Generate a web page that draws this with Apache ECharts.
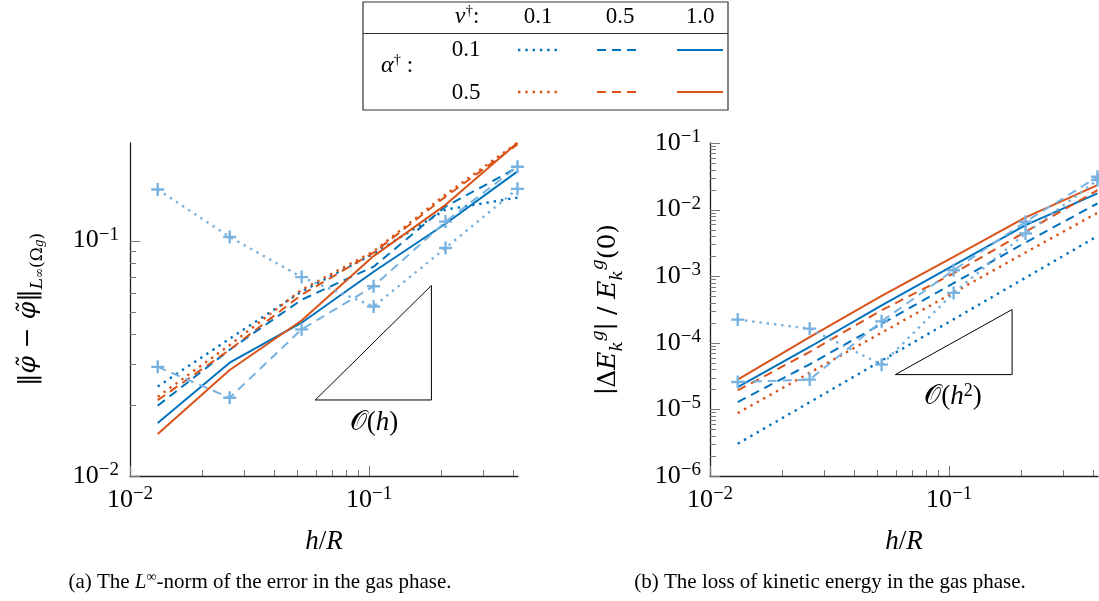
<!DOCTYPE html>
<html><head><meta charset="utf-8">
<script src="https://cdn.jsdelivr.net/npm/echarts@6/dist/echarts.min.js"></script>
<style>html,body{margin:0;padding:0;background:#fff}#c{width:1099px;height:601px}</style>
</head><body><div id="c"></div><script>
// ---------- data ----------
const hR = [0.01306, 0.02612, 0.05224, 0.1045, 0.209, 0.418];
// (a) L-infinity error in gas phase
const errA01N01 = [0.0240, 0.0383, 0.0608, 0.0880, 0.1355, 0.1524];
const errA01N05 = [0.0199, 0.0344, 0.0561, 0.0775, 0.1396, 0.2046];
const errA01N10 = [0.0168, 0.0303, 0.0448, 0.0738, 0.1180, 0.1970];
const errA05N01 = [0.0217, 0.0360, 0.0618, 0.0900, 0.1570, 0.2606];
const errA05N05 = [0.0210, 0.0344, 0.0589, 0.0889, 0.1538, 0.2564];
const errA05N10 = [0.0151, 0.0282, 0.0458, 0.0860, 0.1420, 0.2606];
const errRefDot  = [0.1649, 0.1037, 0.0700, 0.0525, 0.0931, 0.1660];
const errRefDash = [0.0291, 0.0215, 0.0420, 0.0640, 0.1205, 0.2061];
// (b) loss of kinetic energy
const keA01N01 = [3.05e-6, 1.28e-5, 5.40e-5, 2.25e-4, 9.5e-4, 4.0e-3];
const keA01N05 = [1.29e-5, 4.75e-5, 1.93e-4, 7.85e-4, 3.21e-3, 1.24e-2];
const keA01N10 = [2.16e-5, 8.65e-5, 3.66e-4, 1.46e-3, 5.85e-3, 1.75e-2];
const keA05N01 = [8.79e-6, 3.54e-5, 1.42e-4, 5.66e-4, 2.27e-3, 8.95e-3];
const keA05N05 = [1.93e-5, 7.28e-5, 3.08e-4, 1.10e-3, 4.63e-3, 1.96e-2];
const keA05N10 = [2.80e-5, 1.22e-4, 5.06e-4, 1.95e-3, 7.64e-3, 2.33e-2];
const keRefDot  = [2.23e-4, 1.63e-4, 4.70e-5, 5.61e-4, 4.38e-3, 2.78e-2];
const keRefDash = [2.58e-5, 2.80e-5, 2.10e-4, 1.23e-3, 6.56e-3, 3.11e-2];
// slope triangles
const triErrX = [0.0596, 0.1824, 0.1824, 0.0596];
const triErrY = [0.02104, 0.02104, 0.0645, 0.02104];
const triKeX = [0.0596, 0.1836, 0.1836, 0.0596];
const triKeY = [3.33e-5, 3.33e-5, 3.16e-4, 3.33e-5];
// axis ranges & ticks
const xRange = [0.01, 0.42];
const errRange = [0.01, 0.26];
const keRange = [1e-6, 0.1];
const xMajor = [0.01, 0.1];
const xMinor = [0.02,0.03,0.04,0.05,0.06,0.07,0.08,0.09,0.2,0.3,0.4];
const errMajor = [0.01, 0.1];
const errMinor = [0.02,0.03,0.04,0.05,0.06,0.07,0.08,0.09];
const keMajor = [1e-6,1e-5,1e-4,1e-3,1e-2,1e-1];
const keMinor = [];
[1e-6,1e-5,1e-4,1e-3,1e-2].forEach(d => { for (let m = 2; m <= 9; m++) keMinor.push(+(d*m).toPrecision(3)); });

// ---------- styles ----------
const F = 'Liberation Serif';
const FD = 'DejaVu Serif';
const BLUE = '#0072BD', ORANGE = '#D95319', LB = '#78B2E0';
const DOT = [2.4, 4.9], DASH = [9, 6];
const PLUS = 'path://M-1.1,-6H1.1V-1.1H6V1.1H1.1V6H-1.1V1.1H-6V-1.1H-1.1Z';

function pairs(xs, ys) { return xs.map((x, i) => [x, ys[i]]); }
function line(g, ys, color, type, width, marker, z) {
  return {
    type: 'line', xAxisIndex: g, yAxisIndex: g, data: pairs(hR, ys),
    symbol: marker ? PLUS : 'none', symbolSize: 13, showSymbol: !!marker,
    itemStyle: { color: color }, z: z || 2,
    lineStyle: { color: color, width: width, type: type, cap: 'butt' },
    silent: true, animation: false
  };
}
function tri(g, xs, ys) {
  return { type: 'line', xAxisIndex: g, yAxisIndex: g, data: pairs(xs, ys), symbol: 'none',
    lineStyle: { color: '#000', width: 1 }, silent: true, z: 1 };
}
function ticks(g, list, axis, base, len) {
  return {
    type: 'custom', xAxisIndex: g, yAxisIndex: g, coordinateSystem: 'cartesian2d', clip: false, silent: true, z: 1,
    data: list.map(v => axis === 'x' ? [v, base, len] : [base, v, len]),
    encode: { x: 0, y: 1 },
    renderItem: (params, api) => {
      const p = api.coord([api.value(0), api.value(1)]);
      const L = api.value(2);
      let shape;
      if (axis === 'x') { const x = Math.round(p[0]) + 0.5; shape = { x1: x, y1: p[1], x2: x, y2: p[1] - L }; }
      else { const y = Math.round(p[1]) + 0.5; shape = { x1: p[0], y1: y, x2: p[0] + L, y2: y }; }
      return { type: 'line', shape: shape, style: { stroke: '#777', lineWidth: 1 } };
    }
  };
}
const tickRich = {
  b: { fontFamily: F, fontSize: 26, lineHeight: 31, color: '#000' },
  s: { fontFamily: F, fontSize: 19, lineHeight: 19, verticalAlign: 'top', color: '#000' }
};
function powLabel(v) {
  const e = Math.log10(v);
  if (Math.abs(e - Math.round(e)) > 1e-6) return '';
  const n = Math.round(e);
  return '{b|10}{s|' + (n < 0 ? '\u2212' + (-n) : n) + '}';
}
const axisLineStyle = { show: true, lineStyle: { color: '#222', width: 1.3 } };
function xAx(g) {
  return {
    type: 'log', logBase: 10, gridIndex: g, min: xRange[0], max: xRange[1],
    axisLine: axisLineStyle, axisTick: { show: false }, splitLine: { show: false },
    axisLabel: { formatter: powLabel, rich: tickRich, margin: 9, showMaxLabel: false },
    name: '{i|h}{n|/}{i|R}', nameLocation: 'middle', nameGap: 52,
    nameTextStyle: { rich: {
      i: { fontFamily: F, fontSize: 27, fontStyle: 'italic', color: '#000' },
      n: { fontFamily: F, fontSize: 27, color: '#000' } } }
  };
}
const nameRich = {
  n: { fontFamily: FD, fontSize: 25, lineHeight: 36, color: '#000' },
  i: { fontFamily: FD, fontSize: 25, lineHeight: 36, fontStyle: 'italic', color: '#000' },
  sb: { fontFamily: FD, fontSize: 17, lineHeight: 17, verticalAlign: 'bottom', fontStyle: 'italic', color: '#000' },
  sbn: { fontFamily: FD, fontSize: 17, lineHeight: 17, verticalAlign: 'bottom', color: '#000' },
  ss: { fontFamily: FD, fontSize: 12, lineHeight: 26, verticalAlign: 'bottom', fontStyle: 'italic', color: '#000' },
  ssn: { fontFamily: FD, fontSize: 12, lineHeight: 26, verticalAlign: 'bottom', color: '#000' },
  sp: { fontFamily: FD, fontSize: 17, lineHeight: 17, verticalAlign: 'top', fontStyle: 'italic', color: '#000' }
};

const option = {
  animation: false,
  backgroundColor: '#fff',
  grid: [
    { left: 130, top: 143, width: 388, height: 333 },
    { left: 710, top: 143, width: 388, height: 333 }
  ],
  xAxis: [xAx(0), xAx(1)],
  yAxis: [
    { type: 'log', logBase: 10, gridIndex: 0, min: errRange[0], max: errRange[1],
      axisLine: axisLineStyle, axisTick: { show: false }, splitLine: { show: false },
      axisLabel: { formatter: powLabel, rich: tickRich, margin: 11, showMaxLabel: false },
      name: '{n|\u2016}{i|\u03C6\u0303}{n| \u2212 }{i|\u03C6\u0303}{n|\u2016}{sb|L}{ssn|\u221E}{sbn|(\u03A9}{ss|g}{sbn|)}',
      nameLocation: 'middle', nameGap: 84, nameTextStyle: { rich: nameRich } },
    { type: 'log', logBase: 10, gridIndex: 1, min: keRange[0], max: keRange[1],
      axisLine: axisLineStyle, axisTick: { show: false }, splitLine: { show: false },
      axisLabel: { formatter: powLabel, rich: tickRich, margin: 9 },
      name: '{n|\u2223\u0394}{i|E}{sb|k}{sp|g}{n|\u2223 / }{i|E}{sb|k}{sp|g}{n|(0)}',
      nameLocation: 'middle', nameGap: 84, nameTextStyle: { rich: nameRich } }
  ],
  series: [
    ticks(0, xMajor, 'x', errRange[0], 10), ticks(0, xMinor, 'x', errRange[0], 6),
    ticks(0, errMajor, 'y', xRange[0], 10), ticks(0, errMinor, 'y', xRange[0], 6),
    ticks(1, xMajor, 'x', keRange[0], 10), ticks(1, xMinor, 'x', keRange[0], 6),
    ticks(1, keMajor, 'y', xRange[0], 10), ticks(1, keMinor, 'y', xRange[0], 6),
    tri(0, triErrX, triErrY), tri(1, triKeX, triKeY),
    line(0, errA01N01, BLUE, DOT, 2.4), line(0, errA01N05, BLUE, DASH, 2), line(0, errA01N10, BLUE, 'solid', 2),
    line(0, errA05N01, ORANGE, DOT, 2.4), line(0, errA05N05, ORANGE, DASH, 2), line(0, errA05N10, ORANGE, 'solid', 2),
    line(0, errRefDot, LB, DOT, 2.4, true, 3), line(0, errRefDash, LB, DASH, 2, true, 3),
    line(1, keA01N01, BLUE, DOT, 2.4), line(1, keA01N05, BLUE, DASH, 2), line(1, keA01N10, BLUE, 'solid', 2),
    line(1, keA05N01, ORANGE, DOT, 2.4), line(1, keA05N05, ORANGE, DASH, 2), line(1, keA05N10, ORANGE, 'solid', 2),
    line(1, keRefDot, LB, DOT, 2.4, true, 3), line(1, keRefDash, LB, DASH, 2, true, 3)
  ],
  graphic: [
    { type: 'rect', shape: { x: 363, y: 2, width: 365, height: 108 }, style: { fill: 'none', stroke: '#333', lineWidth: 1.2 } },
    { type: 'line', shape: { x1: 363, y1: 33.5, x2: 728, y2: 33.5 }, style: { stroke: '#333', lineWidth: 1.2 } },
    { type: 'text', x: 467, y: 17, style: { text: '{i|\u03BD}{d|\u2020}{n|:}', align: 'center', verticalAlign: 'middle',
      rich: { i: { fontFamily: F, fontSize: 24, fontStyle: 'italic', lineHeight: 26 }, d: { fontFamily: F, fontSize: 15, lineHeight: 15, verticalAlign: 'top' }, n: { fontFamily: F, fontSize: 23, lineHeight: 26 } } } },
    { type: 'text', x: 538, y: 17, style: { text: '0.1', fontFamily: F, fontSize: 23, align: 'center', verticalAlign: 'middle', fill: '#000' } },
    { type: 'text', x: 620, y: 17, style: { text: '0.5', fontFamily: F, fontSize: 23, align: 'center', verticalAlign: 'middle', fill: '#000' } },
    { type: 'text', x: 700, y: 17, style: { text: '1.0', fontFamily: F, fontSize: 23, align: 'center', verticalAlign: 'middle', fill: '#000' } },
    { type: 'text', x: 466, y: 50, style: { text: '0.1', fontFamily: F, fontSize: 23, align: 'center', verticalAlign: 'middle', fill: '#000' } },
    { type: 'text', x: 466, y: 93, style: { text: '0.5', fontFamily: F, fontSize: 23, align: 'center', verticalAlign: 'middle', fill: '#000' } },
    { type: 'text', x: 397, y: 66, style: { text: '{i|\u03B1}{d|\u2020}{n| :}', align: 'center', verticalAlign: 'middle',
      rich: { i: { fontFamily: F, fontSize: 24, fontStyle: 'italic', lineHeight: 26 }, d: { fontFamily: F, fontSize: 15, lineHeight: 15, verticalAlign: 'top' }, n: { fontFamily: F, fontSize: 23, lineHeight: 26 } } } },
    { type: 'line', shape: { x1: 518, y1: 50, x2: 561, y2: 50 }, style: { stroke: BLUE, lineWidth: 2.4, lineDash: DOT } },
    { type: 'line', shape: { x1: 597, y1: 50, x2: 640, y2: 50 }, style: { stroke: BLUE, lineWidth: 2, lineDash: DASH } },
    { type: 'line', shape: { x1: 677, y1: 50, x2: 723, y2: 50 }, style: { stroke: BLUE, lineWidth: 2 } },
    { type: 'line', shape: { x1: 518, y1: 92, x2: 561, y2: 92 }, style: { stroke: ORANGE, lineWidth: 2.4, lineDash: DOT } },
    { type: 'line', shape: { x1: 597, y1: 92, x2: 640, y2: 92 }, style: { stroke: ORANGE, lineWidth: 2, lineDash: DASH } },
    { type: 'line', shape: { x1: 677, y1: 92, x2: 723, y2: 92 }, style: { stroke: ORANGE, lineWidth: 2 } },
    { type: 'text', x: 374, y: 423, style: { text: '{c|\uD835\uDCAA}{n|(}{i|h}{n|)}', align: 'center', verticalAlign: 'middle',
      rich: { c: { fontFamily: 'DejaVu Sans', fontSize: 27, lineHeight: 30 }, n: { fontFamily: F, fontSize: 27, lineHeight: 30 }, i: { fontFamily: F, fontSize: 27, fontStyle: 'italic', lineHeight: 30 } } } },
    { type: 'text', x: 953, y: 397, style: { text: '{c|\uD835\uDCAA}{n|(}{i|h}{s|2}{n|)}', align: 'center', verticalAlign: 'middle',
      rich: { c: { fontFamily: 'DejaVu Sans', fontSize: 27, lineHeight: 30 }, n: { fontFamily: F, fontSize: 27, lineHeight: 30 }, i: { fontFamily: F, fontSize: 27, fontStyle: 'italic', lineHeight: 30 }, s: { fontFamily: F, fontSize: 18, lineHeight: 18, verticalAlign: 'top' } } } },
    { type: 'text', x: 260, y: 582, style: { text: '(a) The {i|L}{s|\u221E}-norm of the error in the gas phase.', fontFamily: F, fontSize: 21, align: 'center', verticalAlign: 'middle', fill: '#000',
      rich: { i: { fontFamily: F, fontSize: 21, fontStyle: 'italic', lineHeight: 24 }, s: { fontFamily: F, fontSize: 14, lineHeight: 14, verticalAlign: 'top' } } } },
    { type: 'text', x: 830, y: 582, style: { text: '(b) The loss of kinetic energy in the gas phase.', fontFamily: F, fontSize: 21, align: 'center', verticalAlign: 'middle', fill: '#000' } }
  ]
};
const chart = echarts.init(document.getElementById('c'), null, { renderer: 'canvas' });
chart.setOption(option);
</script></body></html>
